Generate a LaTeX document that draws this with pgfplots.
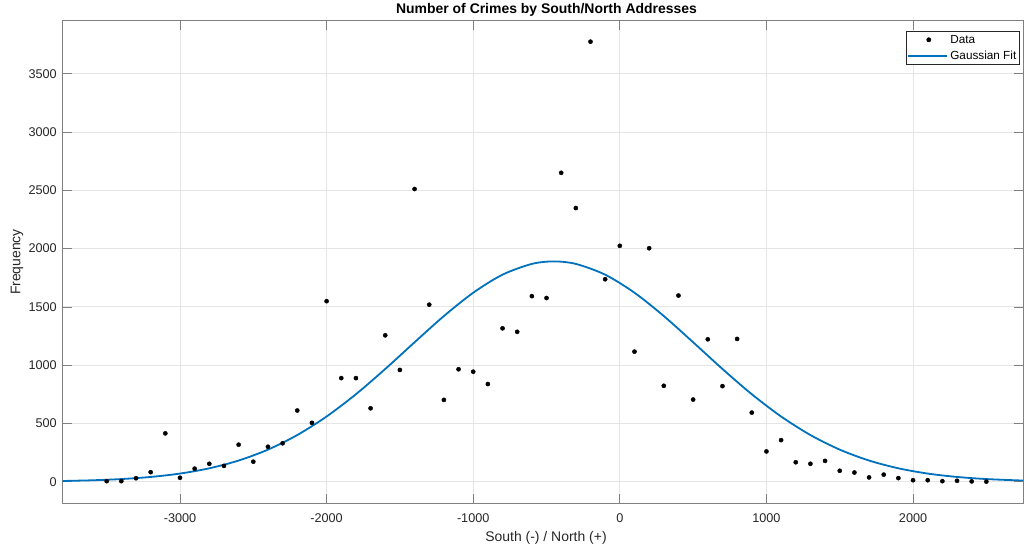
\documentclass[border=0pt]{standalone}
\usepackage{fontspec}
\setmainfont{Liberation Sans}
\usepackage{pgfplots}
\pgfplotsset{compat=1.18}
\definecolor{mblue}{rgb}{0,0.447,0.741}
\definecolor{mgrid}{rgb}{0.9,0.9,0.9}
\definecolor{maxis}{rgb}{0.5,0.5,0.5}
\definecolor{mtext}{rgb}{0.15,0.15,0.15}
\pgfplotsset{
  every axis title shift=0pt,
  dotleg/.style={legend image code/.code={\draw[black, only marks, mark=*, mark size=2.1bp] plot coordinates {(20.5bp,0bp)};}},
  lineleg/.style={legend image code/.code={\draw[mblue, line width=1.8bp] (0bp,0bp) -- (39bp,0bp);}},
}
\begin{document}
\begin{tikzpicture}
\begin{axis}[
  name=ax,
  scale only axis, width=960.3bp, height=482.6bp,
  xmin=-3800, xmax=2750, ymin=-185, ymax=3955,
  xtick={-3000,-2000,...,2000}, ytick={0,500,...,3500},
  grid=major, major grid style={mgrid, line width=0.8pt},
  axis line style={maxis, line width=0.8pt},
  tick style={maxis, line width=0.7pt}, tick align=inside,
  major tick length=9bp,
  /pgf/number format/assume math mode=true,
  /pgf/number format/1000 sep={},
  ticklabel style={font=\fontsize{12.7}{14}\selectfont, text=mtext},
  xticklabel style={yshift=-6.5bp},
  yticklabel style={xshift=-2.5bp},
  title={Number of Crimes by South/North Addresses},
  title style={font=\bfseries\fontsize{14}{16}\selectfont, at={(axis description cs:0.5038,1)}, anchor=base, yshift=6.7bp},
  xlabel={South (-) / North (+)},
  ylabel={Frequency},
  label style={font=\fontsize{14}{16}\selectfont, text=mtext},
  xlabel style={at={(axis description cs:0.5033,-0.0792)}, anchor=base},
  ylabel style={at={(axis description cs:-0.0476,0.5)}, anchor=center},
  legend style={at={(1,1)}, anchor=north east, xshift=-3.7bp, yshift=-10bp,
    font=\fontsize{11.8}{13}\selectfont, draw=mtext, line width=0.6pt,
    inner xsep=1.5bp, inner ysep=2bp, row sep=2.2bp, column sep=0.9bp,
    nodes={inner xsep=1.2bp, inner ysep=2bp}, cells={anchor=west}},
  legend cell align=left,
]
\addplot[only marks, mark=*, mark size=2.1bp, black, dotleg]
coordinates {
(-3500,5) (-3400,5) (-3300,30) (-3200,82) (-3100,415) (-3000,34)
(-2900,112) (-2800,154) (-2700,136) (-2600,318) (-2500,172) (-2400,300)
(-2300,330) (-2200,611) (-2100,505) (-2000,1549) (-1900,889) (-1800,889)
(-1700,630) (-1600,1256) (-1500,959) (-1400,2511) (-1300,1519) (-1200,702)
(-1100,965) (-1000,944) (-900,838) (-800,1316) (-700,1286) (-600,1592)
(-500,1576) (-400,2650) (-300,2348) (-200,3775) (-100,1737) (0,2024)
(100,1116) (200,2003) (300,823) (400,1597) (500,705) (600,1222)
(700,820) (800,1225) (900,593) (1000,260) (1100,357) (1200,167)
(1300,154) (1400,179) (1500,94) (1600,79) (1700,37) (1800,61)
(1900,31) (2000,13) (2100,13) (2200,5) (2300,8) (2400,3) (2500,1)
};
\addlegendentry{Data}
\addplot[mblue, line width=1.8bp, smooth, lineleg]
coordinates {
(-3800,6.4) (-3600,12.4) (-3400,23.0) (-3200,41.0) (-3000,70.1)
(-2800,115.2) (-2600,181.8) (-2400,275.4) (-2200,400.6) (-2000,559.6)
(-1800,750.7) (-1600,967.3) (-1400,1196.4) (-1200,1421.3) (-1000,1621.4)
(-800,1776.3) (-600,1868.6) (-450,1890) (-300,1868.6) (-100,1776.3)
(100,1621.4) (300,1421.3) (500,1196.4) (700,967.3) (900,750.7)
(1100,559.6) (1300,400.6) (1500,275.4) (1700,181.8) (1900,115.2)
(2100,70.1) (2300,41.0) (2500,23.0) (2700,12.4) (2750,10.6)
};
\addlegendentry{Gaussian Fit}
\end{axis}
\pgfresetboundingbox
\path[use as bounding box] ([xshift=-62.7bp,yshift=-48.7bp]ax.south west) rectangle ([xshift=3bp,yshift=20.7bp]ax.north east);
\end{tikzpicture}
\end{document}
